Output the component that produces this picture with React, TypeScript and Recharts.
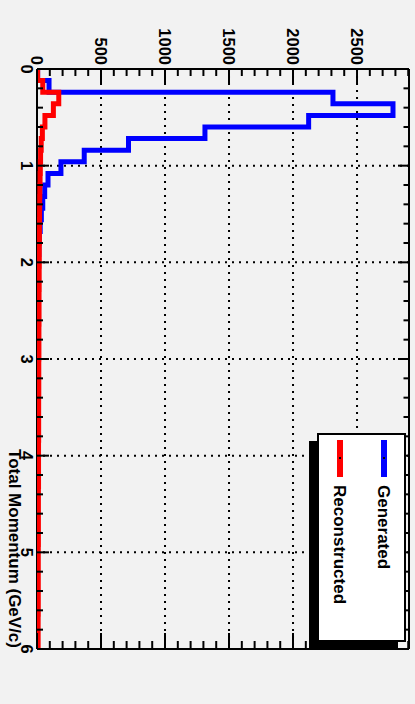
import React from 'react';
import { ComposedChart, Line, XAxis, YAxis, CartesianGrid, Legend } from 'recharts';

const binEdges = [
  0, 0.12, 0.24, 0.36, 0.48, 0.6, 0.72, 0.84, 0.96, 1.08,
  1.2, 1.32, 1.44, 1.56, 1.68, 1.8, 1.92, 2.04, 2.16, 2.28,
  2.4, 2.52, 2.64, 2.76, 2.88, 3, 3.12, 3.24, 3.36, 3.48,
  3.6, 3.72, 3.84, 3.96, 4.08, 4.2, 4.32, 4.44, 4.56, 4.68,
  4.8, 4.92, 5.04, 5.16, 5.28, 5.4, 5.52, 5.64, 5.76, 5.88, 6,
];

const generated = [
  5, 94, 2312, 2781, 2122, 1312, 715, 369, 187, 86,
  60, 45, 34, 25, 18, 14, 11, 9, 7, 6,
  5, 4, 4, 3, 3, 2, 2, 2, 2, 1,
  1, 1, 1, 1, 1, 1, 1, 1, 0, 1,
  0, 1, 0, 0, 1, 0, 0, 0, 0, 0,
];

const reconstructed = [
  5, 45, 170, 128, 62, 42, 33, 28, 26, 24,
  22, 21, 20, 19, 19, 18, 18, 17, 17, 16,
  16, 16, 15, 15, 15, 14, 14, 14, 13, 13,
  13, 13, 12, 12, 12, 12, 11, 11, 11, 11,
  11, 10, 10, 10, 10, 10, 10, 9, 9, 9,
];

const momentumTicks = [
  0, 0.2, 0.4, 0.6, 0.8, 1, 1.2, 1.4, 1.6, 1.8, 2, 2.2, 2.4, 2.6, 2.8, 3,
  3.2, 3.4, 3.6, 3.8, 4, 4.2, 4.4, 4.6, 4.8, 5, 5.2, 5.4, 5.6, 5.8, 6,
];
const countTicks = [
  0, 100, 200, 300, 400, 500, 600, 700, 800, 900, 1000, 1100, 1200, 1300, 1400,
  1500, 1600, 1700, 1800, 1900, 2000, 2100, 2200, 2300, 2400, 2500, 2600, 2700, 2800, 2900,
];
const momentumGrid = [1, 2, 3, 4, 5];
const countGrid = [0, 500, 1000, 1500, 2000, 2500];
const momentumDomain = [0, 6];
const countDomain = [0, 2906];

const seriesNames = ['Generated', 'Reconstructed'];
const seriesColors = ['#0000ff', '#ff0000'];
const xTitle = 'Total Momentum (GeV/c)';

const FONT = '"Liberation Sans", Arial, Helvetica, sans-serif';

const rows = binEdges.map((p, i) => ({
  p,
  gen: generated[Math.min(i, generated.length - 1)],
  rec: reconstructed[Math.min(i, reconstructed.length - 1)],
}));

const isInt = (v: number) => Math.abs(v - Math.round(v)) < 1e-6;
const isMajorCount = (v: number) => Math.round(v) % 500 === 0;

const BottomTick = (props: any) => {
  const { x, y, payload } = props;
  const v = payload.value;
  const major = isInt(v);
  return (
    <g>
      <line x1={x} y1={y} x2={x} y2={y - (major ? 12 : 6)} stroke="#000" strokeWidth={2} />
      {major && (
        <text x={x} y={y + 16.5} textAnchor="middle" fontFamily={FONT} fontWeight="bold" fontSize={16.5} fill="#000">
          {Math.round(v)}
        </text>
      )}
    </g>
  );
};

const TopTick = (props: any) => {
  const { x, y, payload } = props;
  const major = isInt(payload.value);
  return <line x1={x} y1={y} x2={x} y2={y + (major ? 11 : 5.5)} stroke="#000" strokeWidth={2} />;
};

const LeftTick = (props: any) => {
  const { x, y, payload } = props;
  const v = payload.value;
  const major = isMajorCount(v);
  return (
    <g>
      <line x1={x} y1={y} x2={x + (major ? 14 : 7)} y2={y} stroke="#000" strokeWidth={2} />
      {major && (
        <text x={x - 4} y={y} dy="0.36em" textAnchor="end" fontFamily={FONT} fontWeight="bold" fontSize={16.5} fill="#000">
          {Math.round(v)}
        </text>
      )}
    </g>
  );
};

const RightTick = (props: any) => {
  const { x, y, payload } = props;
  const major = isMajorCount(payload.value);
  return <line x1={x} y1={y} x2={x - (major ? 16 : 8)} y2={y} stroke="#000" strokeWidth={2} />;
};

const GridH = (p: any) => (
  <line
    key={p.key ?? `h-${p.index}`}
    x1={p.x1}
    y1={p.y1}
    x2={p.x2}
    y2={p.y2}
    stroke="#000"
    strokeWidth={2}
    strokeDasharray={p.index === 0 ? undefined : '2 5'}
  />
);

const GridV = (p: any) => (
  <line
    key={p.key ?? `v-${p.index}`}
    x1={p.x1}
    y1={p.y1}
    x2={p.x2}
    y2={p.y2}
    stroke="#000"
    strokeWidth={2}
    strokeDasharray="2 5"
  />
);

const XTitle = (props: any) => {
  const vb = props.viewBox || {};
  return (
    <text
      x={vb.x + vb.width - 1}
      y={vb.y + 28}
      textAnchor="end"
      fontFamily={FONT}
      fontWeight="bold"
      fontSize={17}
      fill="#000"
    >
      {xTitle}
    </text>
  );
};

const LegendBox = () => (
  <div
    style={{
      boxSizing: 'border-box',
      width: 209,
      height: 89,
      background: '#ffffff',
      border: '2px solid #000',
      boxShadow: '8px 8px 0 0 #000',
      position: 'relative',
      fontFamily: FONT,
      fontWeight: 'bold',
      fontSize: 17,
      color: '#000',
    }}
  >
    {seriesNames.map((name, i) => {
      const cy = i === 0 ? 20 : 64;
      return (
        <React.Fragment key={name}>
          <div style={{ position: 'absolute', left: 5, top: cy - 3, width: 37, height: 6, background: seriesColors[i] }} />
          <div style={{ position: 'absolute', left: 22, top: cy - 1, width: 2, height: 2, background: '#000' }} />
          <div
            style={{
              position: 'absolute',
              left: 50,
              top: cy - 9.5,
              height: 20,
              lineHeight: '20px',
              whiteSpace: 'nowrap',
            }}
          >
            {name}
          </div>
        </React.Fragment>
      );
    })}
  </div>
);

export default function App() {
  return (
    <div
      style={{
        position: 'absolute',
        left: 0,
        top: 0,
        width: 415,
        height: 704,
        background: '#f2f2f2',
        overflow: 'hidden',
      }}
    >
      <div
        style={{
          position: 'absolute',
          left: 0,
          top: 0,
          width: 704,
          height: 415,
          transformOrigin: '0 0',
          transform: 'translateX(415px) rotate(90deg)',
        }}
      >
        <ComposedChart width={704} height={415} data={rows} margin={{ top: 0, right: 0, bottom: 0, left: 0 }}>
          <CartesianGrid
            stroke="#000"
            strokeWidth={2}
            fill="none"
            horizontalValues={countGrid}
            verticalValues={momentumGrid}
            horizontal={GridH}
            vertical={GridV}
          />
          <XAxis
            dataKey="p"
            type="number"
            domain={momentumDomain}
            allowDataOverflow
            ticks={momentumTicks}
            interval={0}
            height={37}
            tickSize={0}
            tickMargin={0}
            tickLine={false}
            axisLine={false}
            tick={BottomTick}
            label={{ content: XTitle }}
          />
          <XAxis
            xAxisId="t"
            dataKey="p"
            type="number"
            orientation="top"
            domain={momentumDomain}
            allowDataOverflow
            ticks={momentumTicks}
            interval={0}
            height={6}
            tickSize={0}
            tickMargin={0}
            tickLine={false}
            axisLine={{ stroke: '#000', strokeWidth: 2 }}
            tick={TopTick}
          />
          <YAxis
            type="number"
            domain={countDomain}
            allowDataOverflow
            ticks={countTicks}
            interval={0}
            width={69}
            tickSize={0}
            tickMargin={0}
            tickLine={false}
            axisLine={{ stroke: '#000', strokeWidth: 2 }}
            tick={LeftTick}
          />
          <YAxis
            yAxisId="r"
            type="number"
            orientation="right"
            domain={countDomain}
            allowDataOverflow
            ticks={countTicks}
            interval={0}
            width={55}
            tickSize={0}
            tickMargin={0}
            tickLine={false}
            axisLine={{ stroke: '#000', strokeWidth: 2 }}
            tick={RightTick}
          />
          <Legend
            verticalAlign="middle"
            align="center"
            layout="horizontal"
            wrapperStyle={{ position: 'absolute', left: 433, top: 9, width: 209, height: 89, margin: 0, padding: 0 }}
            content={() => <LegendBox />}
          />
          <Line
            type="stepAfter"
            dataKey="gen"
            name={seriesNames[0]}
            stroke={seriesColors[0]}
            strokeWidth={5}
            strokeLinejoin="miter"
            strokeLinecap="butt"
            dot={false}
            activeDot={false}
            isAnimationActive={false}
          />
          <Line
            type="stepAfter"
            dataKey="rec"
            name={seriesNames[1]}
            stroke={seriesColors[1]}
            strokeWidth={5}
            strokeLinejoin="miter"
            strokeLinecap="butt"
            dot={false}
            activeDot={false}
            isAnimationActive={false}
          />
        </ComposedChart>
      </div>
    </div>
  );
}
